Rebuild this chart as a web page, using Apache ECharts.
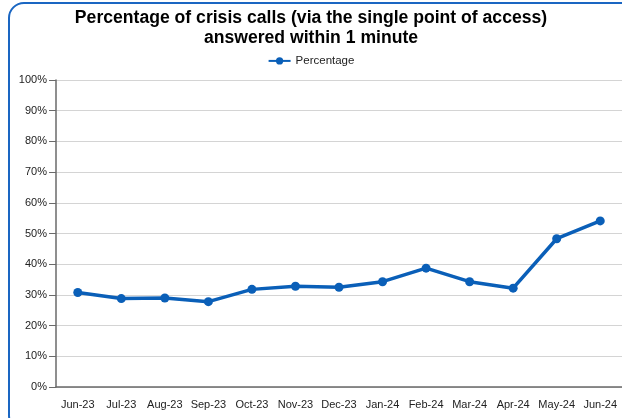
<!DOCTYPE html>
<html lang="en">
<head>
    <script src="https://cdn.jsdelivr.net/npm/echarts@6/dist/echarts.min.js"></script>
    <style>
        html, body { margin: 0; padding: 0; background: #fff; }
        #frame {
            position: absolute; left: 8px; top: 2px;
            width: 630px; height: 430px;
            border: 2px solid #1a66c2; border-radius: 16px;
            box-sizing: border-box;
        }
        #chart { position: absolute; left: 0; top: 0; width: 622px; height: 418px; }
    </style>
</head>
<body>
    <div id="frame"></div>
    <div id="chart"></div>
    <script>
        // months and values
        const months = ['Jun-23', 'Jul-23', 'Aug-23', 'Sep-23', 'Oct-23', 'Nov-23', 'Dec-23',
            'Jan-24', 'Feb-24', 'Mar-24', 'Apr-24', 'May-24', 'Jun-24']
        const percentage = [30.8, 28.8, 29.0, 27.8, 31.8, 32.8, 32.5, 34.3, 38.7, 34.3, 32.2, 48.3, 54.1]

        let chart = echarts.init(document.querySelector('#chart'))
        chart.setOption({
            animation: false,
            textStyle: { fontFamily: 'Liberation Sans, Arial, sans-serif' },
            title: {
                text: 'Percentage of crisis calls (via the single point of access)\nanswered within 1 minute',
                left: 'center',
                top: 3,
                textStyle: { fontSize: 17.6, fontWeight: 'bold', color: '#000', lineHeight: 20 }
            },
            legend: {
                top: 46,
                left: 'center',
                itemWidth: 22,
                itemHeight: 9,
                textStyle: { fontSize: 11.5, color: '#222' },
                data: ['Percentage']
            },
            grid: { left: 56, top: 80, width: 568, bottom: 31, containLabel: false },
            xAxis: {
                type: 'category',
                data: months,
                boundaryGap: true,
                axisLine: { lineStyle: { color: '#6a6a6a', width: 1.5 } },
                axisTick: { alignWithLabel: true, length: 5, lineStyle: { color: '#6a6a6a' } },
                axisLabel: { fontSize: 11, color: '#222', margin: 8, interval: 0 }
            },
            yAxis: {
                type: 'value',
                min: 0, max: 100, interval: 10,
                axisLine: { show: true, lineStyle: { color: '#6a6a6a', width: 1.5 } },
                axisTick: { show: true, length: 7, lineStyle: { color: '#6a6a6a' } },
                axisLabel: { fontSize: 11, color: '#222', formatter: '{value}%', margin: 9 },
                splitLine: { lineStyle: { color: '#d4d4d4', width: 1 } }
            },
            series: [{
                name: 'Percentage',
                type: 'line',
                data: percentage,
                symbol: 'circle',
                symbolSize: 9,
                lineStyle: { color: '#0a5fb8', width: 3.5 },
                itemStyle: { color: '#0a5fb8' }
            }]
        })
    </script>
</body>
</html>
